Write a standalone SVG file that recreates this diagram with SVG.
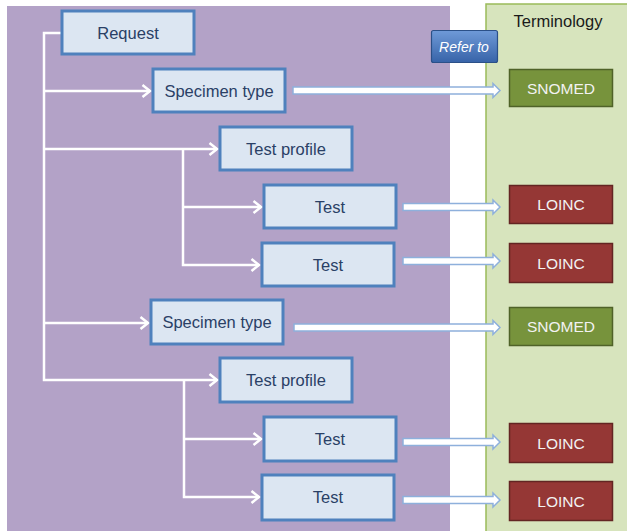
<svg xmlns="http://www.w3.org/2000/svg" width="627" height="531" viewBox="0 0 627 531">
<defs>
<style>
.node rect{fill:#dce6f2;stroke:#4f81bd;stroke-width:3}
.node text{font-family:"Liberation Sans",Arial,sans-serif;font-size:16.5px;fill:#2a4066;text-anchor:middle}
.loinc rect{fill:#953735;stroke:#632523;stroke-width:1.5}
.snomed rect{fill:#77933c;stroke:#4f6228;stroke-width:1.5}
.term text{font-family:"Liberation Sans",Arial,sans-serif;font-size:15.5px;fill:#f2f2f2;text-anchor:middle}
.tree{fill:none;stroke:#ffffff;stroke-width:2.5}
.block{fill:#ffffff;stroke:#8eb0dc;stroke-width:1.5;stroke-linejoin:miter}
</style>
<marker id="chev" markerWidth="14" markerHeight="14" refX="11" refY="7" orient="auto" markerUnits="userSpaceOnUse">
<path d="M3.5,1 L11,7 L3.5,13" fill="none" stroke="#ffffff" stroke-width="2.5"/>
</marker>
<linearGradient id="refg" x1="0" y1="0" x2="0" y2="1">
<stop offset="0" stop-color="#6f9ad8"/>
<stop offset="1" stop-color="#3763a8"/>
</linearGradient>
</defs>
<rect x="0" y="0" width="627" height="531" fill="#ffffff"/>
<rect id="request-panel" x="7" y="6" width="443" height="525" fill="#b3a2c7"/>
<g id="terminology-panel">
<rect x="486" y="4" width="145" height="530" fill="#d7e4bd" stroke="#9bbb59" stroke-width="1.5"/>
<text x="558" y="27" font-family="'Liberation Sans',Arial,sans-serif" font-size="16.5" fill="#1a1a1a" text-anchor="middle">Terminology</text>
</g>
<g id="connectors">
<path class="tree" d="M61,33 H44 V380 H217" marker-end="url(#chev)"/>
<path class="tree" d="M44,91 H150" marker-end="url(#chev)"/>
<path class="tree" d="M44,149 H217" marker-end="url(#chev)"/>
<path class="tree" d="M44,323 H148" marker-end="url(#chev)"/>
<path class="tree" d="M183,149 V265 H259" marker-end="url(#chev)"/>
<path class="tree" d="M183,207 H261" marker-end="url(#chev)"/>
<path class="tree" d="M184,380 V497 H259" marker-end="url(#chev)"/>
<path class="tree" d="M184,439 H261" marker-end="url(#chev)"/>
<path class="block" d="M293,87 H493 V83.5 L500,90.5 L493,97.5 V94 H293 Z"/>
<path class="block" d="M403,203.5 H493 V200 L500,207 L493,214 V210.5 H403 Z"/>
<path class="block" d="M403,257.5 H493 V254 L500,261 L493,268 V264.5 H403 Z"/>
<path class="block" d="M294,324 H493 V320.5 L500,327.5 L493,334.5 V331 H294 Z"/>
<path class="block" d="M403,438.5 H493 V435 L500,442 L493,449 V445.5 H403 Z"/>
<path class="block" d="M403,496.5 H493 V493 L500,500 L493,507 V503.5 H403 Z"/>
</g>
<g id="request" class="node"><rect x="62" y="11" width="132" height="43"/><text x="128" y="38.5">Request</text></g>
<g id="specimen-type-1" class="node"><rect x="153" y="69" width="132" height="43"/><text x="219" y="96.5">Specimen type</text></g>
<g id="test-profile-1" class="node"><rect x="220" y="127" width="132" height="43"/><text x="286" y="154.5">Test profile</text></g>
<g id="test-1" class="node"><rect x="264" y="185" width="132" height="43"/><text x="330" y="212.5">Test</text></g>
<g id="test-2" class="node"><rect x="262" y="243" width="132" height="43"/><text x="328" y="270.5">Test</text></g>
<g id="specimen-type-2" class="node"><rect x="151" y="300" width="132" height="44"/><text x="217" y="328">Specimen type</text></g>
<g id="test-profile-2" class="node"><rect x="220" y="358" width="132" height="44"/><text x="286" y="386">Test profile</text></g>
<g id="test-3" class="node"><rect x="264" y="417" width="132" height="44"/><text x="330" y="444.5">Test</text></g>
<g id="test-4" class="node"><rect x="262" y="475" width="132" height="45"/><text x="328" y="503">Test</text></g>
<g id="snomed-1" class="term snomed"><rect x="509.5" y="69.5" width="103" height="37"/><text x="561" y="93.5">SNOMED</text></g>
<g id="loinc-1" class="term loinc"><rect x="509.5" y="185.5" width="103" height="38"/><text x="561" y="210">LOINC</text></g>
<g id="loinc-2" class="term loinc"><rect x="509.5" y="243.5" width="103" height="39"/><text x="561" y="268.5">LOINC</text></g>
<g id="snomed-2" class="term snomed"><rect x="509.5" y="307.5" width="103" height="38"/><text x="561" y="332">SNOMED</text></g>
<g id="loinc-3" class="term loinc"><rect x="509.5" y="423.5" width="103" height="39"/><text x="561" y="448.5">LOINC</text></g>
<g id="loinc-4" class="term loinc"><rect x="509.5" y="481.5" width="103" height="39"/><text x="561" y="506.5">LOINC</text></g>
<g id="refer-to"><rect x="431.5" y="30.5" width="66" height="32" rx="2" fill="url(#refg)" stroke="#2b5088" stroke-width="1.2"/><text x="464" y="51.5" font-family="'Liberation Sans',Arial,sans-serif" font-size="14" font-style="italic" fill="#ffffff" text-anchor="middle">Refer to</text></g>
</svg>
